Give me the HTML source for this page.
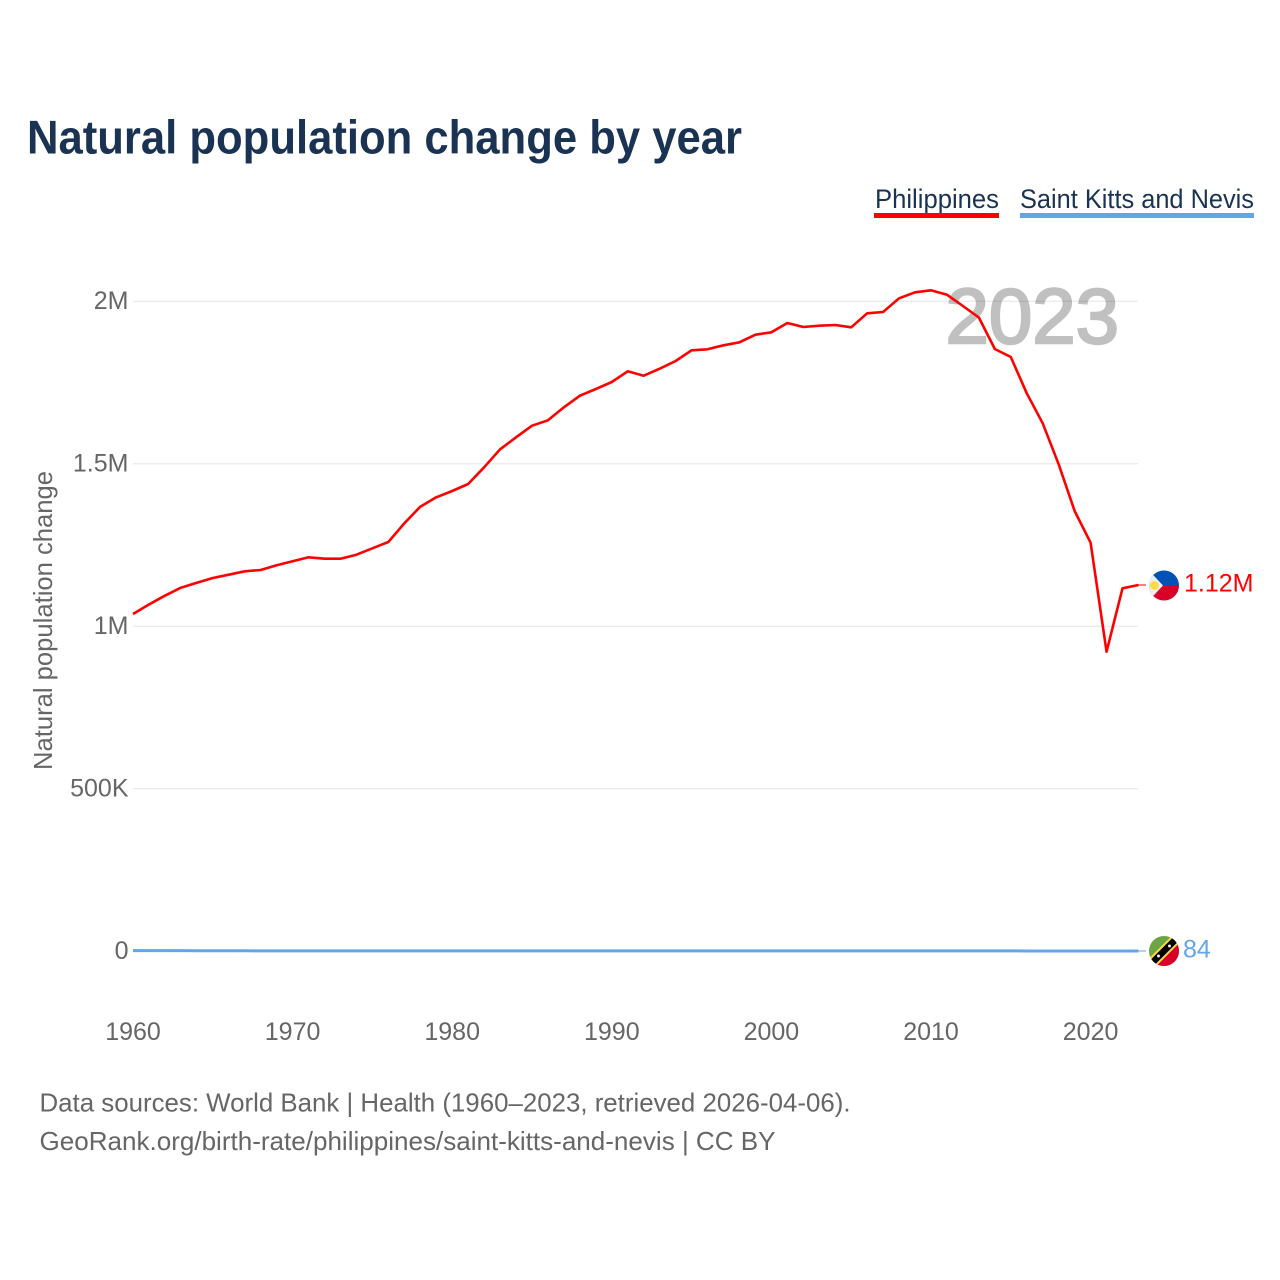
<!DOCTYPE html>
<html lang="en">
<head>
<meta charset="utf-8">
<title>Natural population change by year</title>
<style>
html,body{margin:0;padding:0;background:#fff;}
svg{display:block;}
text{font-family:"Liberation Sans",sans-serif;}
</style>
</head>
<body>
<svg id="chart" xmlns="http://www.w3.org/2000/svg" width="1280" height="1280" viewBox="0 0 1280 1280">
  <rect x="0" y="0" width="1280" height="1280" fill="#ffffff"/>
  <text x="27" y="153.5" font-size="47" font-weight="700" fill="#1a3353" textLength="715" lengthAdjust="spacingAndGlyphs">Natural population change by year</text>

  <g>
    <text x="875" y="208" font-size="27" fill="#1a3353" textLength="124" lengthAdjust="spacingAndGlyphs">Philippines</text>
    <rect x="874" y="213" width="125" height="5" fill="#ff0000"/>
  </g>
  <g>
    <text x="1020" y="208" font-size="27" fill="#1a3353" textLength="234" lengthAdjust="spacingAndGlyphs">Saint Kitts and Nevis</text>
    <rect x="1020" y="213" width="234" height="5" fill="#62a5ea"/>
  </g>

  <text x="1119" y="343" text-anchor="end" font-size="78" font-weight="400" fill="#c0c0c0" stroke="#c0c0c0" stroke-width="2.4">2023</text>

  <g id="grid"></g>
  <g id="yticks"></g>
  <g id="xticks"></g>

  <text transform="translate(52,770) rotate(-90)" font-size="26" fill="#666666" textLength="299" lengthAdjust="spacingAndGlyphs">Natural population change</text>

  <g id="series"></g>

  <defs>
    <clipPath id="flag-clip"><circle cx="0" cy="0" r="15"/></clipPath>
  </defs>

  <g id="flag-ph">
    <g clip-path="url(#flag-clip)">
      <rect x="-15" y="-15" width="30" height="15" fill="#0052b4"/>
      <rect x="-15" y="0" width="30" height="15" fill="#d80027"/>
      <polygon points="-15,-15 -1,0 -15,15" fill="#f0f0f0"/>
      <circle cx="-9.5" cy="0" r="4.4" fill="#ffda44"/>
    </g>
  </g>
  <g id="flag-kn">
    <g clip-path="url(#flag-clip)">
      <rect x="-15" y="-15" width="30" height="30" fill="#6da544"/>
      <polygon points="15,-15 15,15 -15,15" fill="#d80027"/>
      <line x1="-15" y1="15" x2="15" y2="-15" stroke="#ffda44" stroke-width="10.5"/>
      <line x1="-15" y1="15" x2="15" y2="-15" stroke="#000000" stroke-width="6.5"/>
      <circle cx="-5.5" cy="5" r="1.5" fill="#f0f0f0"/>
      <circle cx="5.5" cy="-5" r="1.5" fill="#f0f0f0"/>
    </g>
  </g>

  <text id="label-ph" x="1184" font-size="25" fill="#ff0000"></text>
  <text id="label-kn" x="1183" font-size="25" fill="#62a5ea"></text>

  <text x="39.5" y="1111.5" font-size="26" fill="#666666" textLength="811" lengthAdjust="spacingAndGlyphs">Data sources: World Bank | Health (1960–2023, retrieved 2026-04-06).</text>
  <text x="39.5" y="1150" font-size="26" fill="#666666" textLength="736" lengthAdjust="spacingAndGlyphs">GeoRank.org/birth-rate/philippines/saint-kitts-and-nevis | CC BY</text>
</svg>

<script>
const startYear = 1960;
const philippinesValues = [
  1036900,1066150,1093230,1117840,1133230,1147690,1157850,1168300,1172300,1186760,
  1199070,1211380,1207070,1207070,1219380,1239070,1258450,1315990,1367070,1396000,
  1415370,1436910,1488290,1543680,1580600,1616300,1632910,1672910,1708600,1729230,
  1750770,1783690,1770150,1791690,1815380,1848300,1851380,1863690,1872920,1896300,
  1903690,1932300,1920000,1924000,1926150,1919070,1962150,1966150,2008300,2026770,
  2032920,2019380,1984600,1949230,1852300,1827690,1716000,1623690,1497540,1353840,
  1256300,920920,1116000,1126150
];
const saintKittsValues = [
  1000,1000,980,980,960,950,900,650,520,480,
  450,450,440,430,430,420,420,420,410,410,
  400,400,400,400,390,390,390,390,380,380,
  380,380,380,380,380,380,370,370,370,370,
  370,370,360,360,360,350,350,350,340,340,
  330,240,230,220,210,200,190,180,170,160,
  130,60,70,84
];
const yTickValues = [0, 500000, 1000000, 1500000, 2000000];
const yTickLabels = ['0', '500K', '1M', '1.5M', '2M'];
const xTickYears = [1960, 1970, 1980, 1990, 2000, 2010, 2020];
const philippinesEndLabel = '1.12M';
const saintKittsEndLabel = '84';

const SVGNS = 'http://www.w3.org/2000/svg';
function xScale(year) { return 133 + (year - 1960) * 15.96; }
function yScale(value) { return 951 - value * 325 / 1000000; }
function make(tag, parent, attrs) {
  const el = document.createElementNS(SVGNS, tag);
  for (const key in attrs) el.setAttribute(key, attrs[key]);
  parent.appendChild(el);
  return el;
}

const grid = document.getElementById('grid');
const yticks = document.getElementById('yticks');
const xticks = document.getElementById('xticks');
const series = document.getElementById('series');

yTickValues.forEach(function (v, i) {
  const y = yScale(v);
  if (v !== 0) {
    const line = make('line', grid, { x1: 133, x2: 1138, y1: y + 0.3, y2: y + 0.3, stroke: '#000000', 'stroke-opacity': 0.1, 'stroke-width': 1 });
    
    
  }
  const label = make('text', yticks, { x: 128.5, y: y + 8, 'text-anchor': 'end', 'font-size': 25, fill: '#666666' });
  label.textContent = yTickLabels[i];
  
  
});

xTickYears.forEach(function (year) {
  const label = make('text', xticks, { x: xScale(year), y: 1040, 'text-anchor': 'middle', 'font-size': 25, fill: '#666666' });
  label.textContent = String(year);
  
  
});

function pointsFor(values) {
  return values.map(function (v, i) {
    return xScale(startYear + i).toFixed(2) + ',' + yScale(v).toFixed(2);
  }).join(' ');
}

const lastYear = startYear + philippinesValues.length - 1;
const lastX = xScale(lastYear);
const phY = yScale(philippinesValues[philippinesValues.length - 1]);
const knY = yScale(saintKittsValues[saintKittsValues.length - 1]);

const knLine = make('polyline', series, { points: pointsFor(saintKittsValues), fill: 'none', stroke: '#62a5ea', 'stroke-width': 3, 'stroke-linejoin': 'round' });



const phLine = make('polyline', series, { points: pointsFor(philippinesValues), fill: 'none', stroke: '#ff0000', 'stroke-width': 2.6, 'stroke-linejoin': 'round' });



const knConnector = make('line', series, { x1: lastX, x2: 1146, y1: knY, y2: knY, stroke: '#62a5ea', 'stroke-width': 1 });



const phConnector = make('line', series, { x1: lastX, x2: 1146, y1: phY, y2: phY, stroke: '#ff0000', 'stroke-width': 1 });



document.getElementById('flag-ph').setAttribute('transform', 'translate(1164,' + (phY + 0.5) + ')');
document.getElementById('flag-kn').setAttribute('transform', 'translate(1164,' + knY + ')');

const labelPh = document.getElementById('label-ph');
labelPh.setAttribute('y', phY + 6.5);
labelPh.textContent = philippinesEndLabel;

const labelKn = document.getElementById('label-kn');
labelKn.setAttribute('y', knY + 6.5);
labelKn.textContent = saintKittsEndLabel;
</script>
</body>
</html>
